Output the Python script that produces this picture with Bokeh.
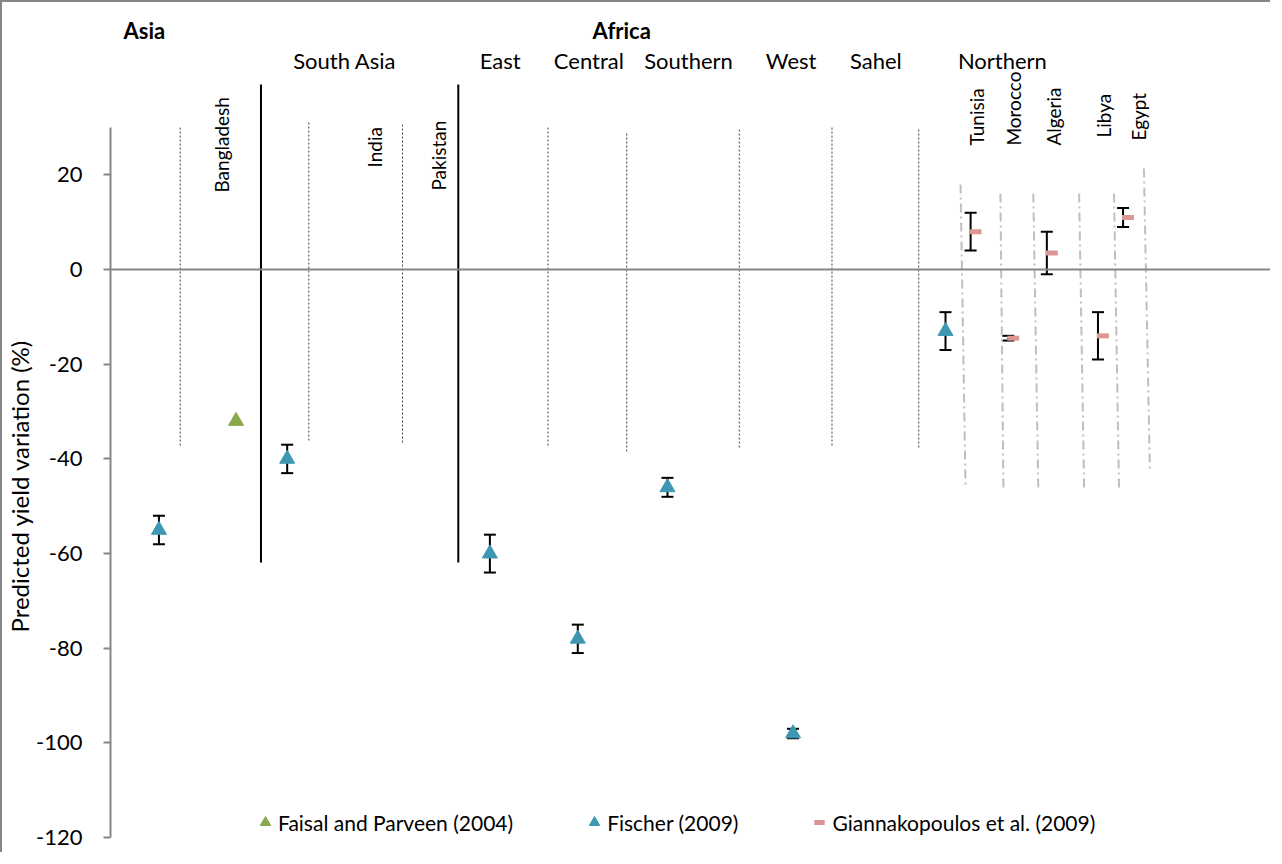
import math
from bokeh.plotting import figure
from bokeh.models import (ColumnDataSource, Range1d, FixedTicker, Whisker, TeeHead,
                          Span, Label, Legend, LegendItem, Title)
from bokeh.transform import dodge
from bokeh.embed import file_html
from bokeh.resources import INLINE

# ---------------- data ----------------
# Fischer (2009): regional estimates
fischer_regions = ["Asia", "South Asia", "East", "Central", "Southern", "West", "Northern"]
fischer_x = [0.54, 1.97, 4.23, 5.21, 6.21, 7.61, 9.31]
fischer_y = [-55, -40, -60, -78, -46, -98, -13]
fischer_lo = [-58, -43, -64, -81, -48, -99, -17]
fischer_hi = [-52, -37, -56, -75, -44, -97, -9]

# Faisal and Parveen (2004): Bangladesh
faisal_countries = ["Bangladesh"]
faisal_x = [1.40]
faisal_y = [-32]

# Giannakopoulos et al. (2009): North African countries
gianna_countries = ["Tunisia", "Morocco", "Algeria", "Libya", "Egypt"]
gianna_x = [9.59, 10.01, 10.44, 11.01, 11.29]
gianna_y = [8, -14.5, 3.5, -14, 11]
gianna_lo = [4, -15, -1, -19, 9]
gianna_hi = [12, -14, 8, -9, 13]

y_ticks = [20, 0, -20, -40, -60, -80, -100, -120]
y_label = "Predicted yield variation (%)"

# ---------------- styling ----------------
FONT = "Lato"
C_FISCHER = "#3E97B1"
C_FAISAL = "#8AA84C"
C_GIANNA = "#D99694"
AXIS_GRAY = "#868686"

# annotation helpers (layout only): convert page pixel to data units
def X(px):
    return (px - 114) / 90.0

def Y(py):
    return (277 - py) / 4.735

p = figure(width=1270, height=852, output_backend="svg", toolbar_location=None,
           x_range=Range1d(0, 12.956), y_range=Range1d(-123.55, 56.4),
           x_axis_location=None, min_border_left=104, min_border_right=0,
           min_border_top=0, min_border_bottom=0,
           styles={"border-top": "2px solid #868686", "border-left": "2px solid #868686"})
p.outline_line_color = None
p.xgrid.visible = False
p.ygrid.visible = False
p.background_fill_color = "white"
p.border_fill_color = "white"

ax = p.yaxis[0]
ax.bounds = (-120, 30)
ax.ticker = FixedTicker(ticks=y_ticks)
ax.major_label_overrides = {t: str(t) for t in y_ticks}
ax.axis_line_color = AXIS_GRAY
ax.axis_line_width = 2
ax.major_tick_line_color = AXIS_GRAY
ax.major_tick_line_width = 2
ax.major_tick_out = 7
ax.major_tick_in = 0
ax.minor_tick_line_color = None
ax.major_label_text_font = FONT
ax.major_label_text_font_size = "22px"
ax.major_label_text_color = "black"
ax.major_label_standoff = 21

# axis title on the left, placed so that it is centred on the axis bounds
p.add_layout(Title(text=y_label, align="left", offset=222, standoff=0,
                   text_font=FONT, text_font_size="24px", text_font_style="normal",
                   text_color="black"), "left")

# zero line
p.add_layout(Span(location=0, dimension="width", line_color=AXIS_GRAY, line_width=2))

# separators
dotted = [(184, 135, 453), (313, 130, 450), (407, 132, 452), (553, 135, 455),
          (632, 141, 460), (745, 137, 457), (838, 135, 455), (925, 137, 457)]
p.segment(x0=[X(a) for a, _, _ in dotted], y0=[Y(b) for _, b, _ in dotted],
          x1=[X(a) for a, _, _ in dotted], y1=[Y(c) for _, _, c in dotted],
          line_color="#404040", line_width=1, line_dash="2 2")
solid = [(265, 92, 570), (463, 92, 570)]
p.segment(x0=[X(a) for a, _, _ in solid], y0=[Y(b) for _, b, _ in solid],
          x1=[X(a) for a, _, _ in solid], y1=[Y(c) for _, _, c in solid],
          line_color="black", line_width=2)
dashdot = [(967, 192, 972, 493), (1007, 201, 1010, 495), (1040, 201, 1045, 495),
           (1086, 201, 1091, 495), (1121, 201, 1126, 495), (1151, 176, 1157, 478)]
p.segment(x0=[X(a) for a, _, _, _ in dashdot], y0=[Y(b) for _, b, _, _ in dashdot],
          x1=[X(c) for _, _, c, _ in dashdot], y1=[Y(d) for _, _, _, d in dashdot],
          line_color="#BFBFBF", line_width=2, line_dash="9 4 2 4")

# sources
src_f = ColumnDataSource(dict(x=fischer_x, y=fischer_y, lo=fischer_lo, hi=fischer_hi,
                              name=fischer_regions))
src_b = ColumnDataSource(dict(x=faisal_x, y=faisal_y, name=faisal_countries))
src_g = ColumnDataSource(dict(x=gianna_x, y=gianna_y, lo=gianna_lo, hi=gianna_hi,
                              name=gianna_countries))

for src in (src_f, src_g):
    w = Whisker(source=src, base="x", upper="hi", lower="lo", dimension="height",
                line_color="black", line_width=2, level="underlay",
                upper_head=TeeHead(size=12, line_width=2, line_color="black"),
                lower_head=TeeHead(size=12, line_width=2, line_color="black"))
    p.add_layout(w)

r_b = p.scatter("x", "y", source=src_b, marker="triangle", size=15,
                fill_color=C_FAISAL, line_color=C_FAISAL)
r_f = p.scatter("x", "y", source=src_f, marker="triangle", size=15,
                fill_color=C_FISCHER, line_color=C_FISCHER)
r_g = p.scatter(dodge("x", 0.055, range=p.x_range), "y", source=src_g, marker="dash",
                size=12, line_color=C_GIANNA, line_width=5)

# region labels
for txt, px, py in [("Asia", 148, 38), ("Africa", 627, 38)]:
    p.add_layout(Label(x=X(px), y=Y(py), text=txt, text_font=FONT, text_font_size="22px",
                       text_font_style="bold", text_color="black",
                       text_align="center", text_baseline="middle"))
for txt, px in [("South Asia", 349), ("East", 505), ("Central", 594), ("Southern", 694),
                ("West", 797), ("Sahel", 882), ("Northern", 1009)]:
    p.add_layout(Label(x=X(px), y=Y(68), text=txt, text_font=FONT, text_font_size="22px",
                       text_color="black", text_align="center", text_baseline="middle"))
for txt, px, py in [("Bangladesh", 225, 200), ("India", 379, 175), ("Pakistan", 443, 198),
                    ("Tunisia", 983, 153), ("Morocco", 1020, 153), ("Algeria", 1060, 153),
                    ("Libya", 1110, 145), ("Egypt", 1146, 148)]:
    p.add_layout(Label(x=X(px), y=Y(py), text=txt, text_font=FONT, text_font_size="19px",
                       text_color="black", angle=math.pi / 2,
                       text_align="left", text_baseline="middle"))

legend = Legend(items=[LegendItem(label="Faisal and Parveen (2004)", renderers=[r_b]),
                       LegendItem(label="Fischer (2009)", renderers=[r_f]),
                       LegendItem(label="Giannakopoulos et al. (2009)", renderers=[r_g])],
                orientation="horizontal", location=(142, 19), padding=0, margin=0,
                spacing=68, label_standoff=0, glyph_width=26, glyph_height=26,
                label_text_font=FONT, label_text_font_size="21px",
                label_text_color="black",
                border_line_color=None, background_fill_alpha=0)
p.add_layout(legend)

open("out.html", "w").write(file_html(p, INLINE))
